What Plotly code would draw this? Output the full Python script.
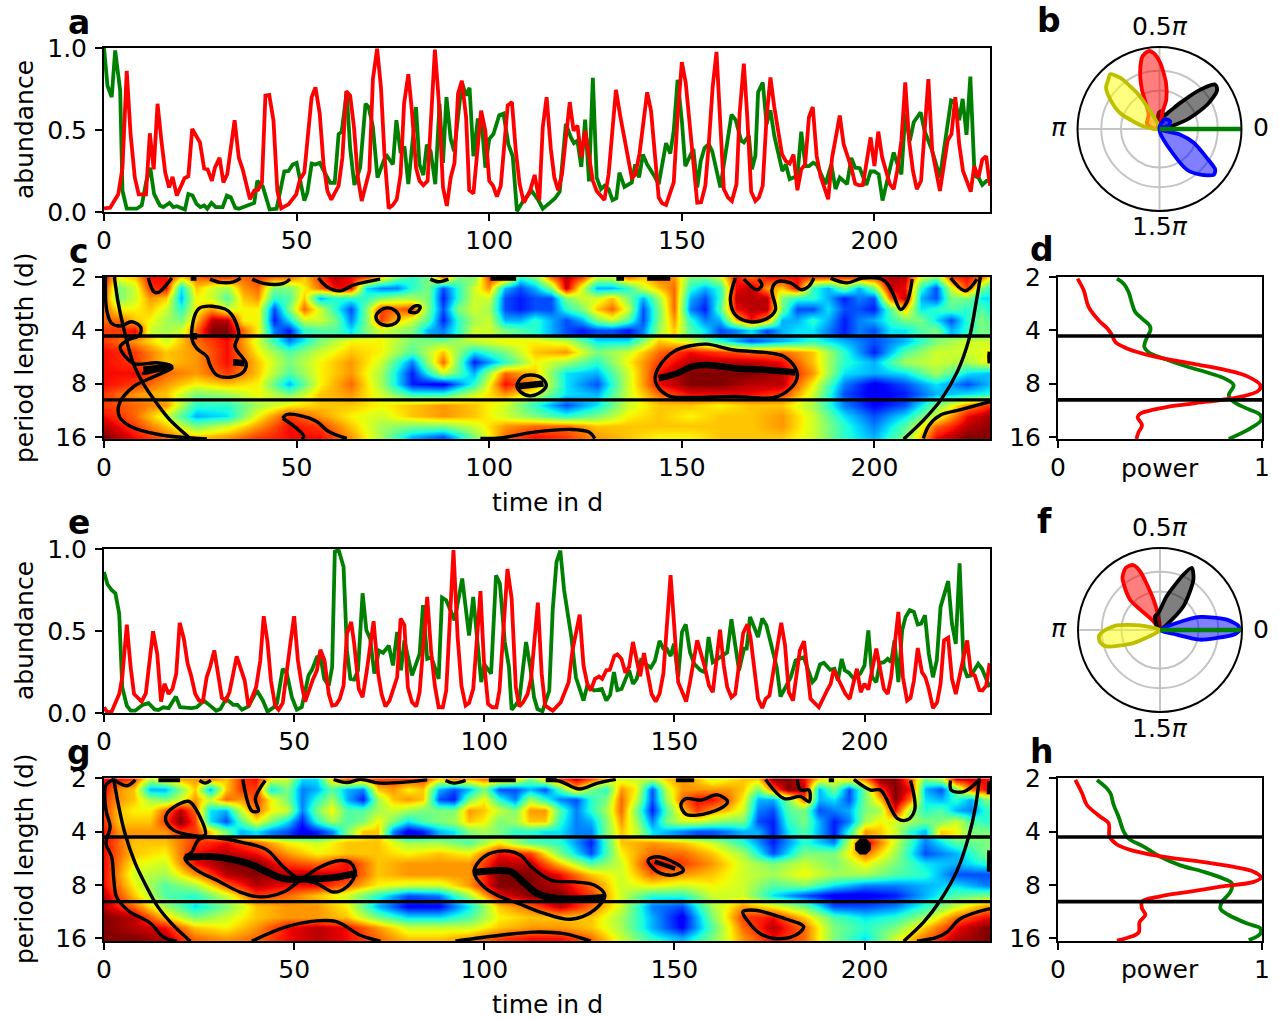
import plotly.graph_objects as go

W, H = 1279, 1019
# ---------- abundance series (day, abundance) ----------
A_GREEN = [(0,1),(.9,.77),(2,.70),(2.9,.985),(4.2,.74),(4.8,.13),(5.9,.02),(8.5,.02),(9.8,.04),(11,.19),(12,.27),(13,.11),(14.5,.04),(15.4,.03),(17,.055),(18,.03),(18.9,.035),(21,.015),(21.9,.11),(23,.1),(24,.05),(25,.03),(26,.04),(26.8,.02),(27.9,.055),(29,.03),(30.8,.03),(31.9,.1),(32.9,.09),(34.1,.025),(35,.02),(37,.04),(39,.055),(39.8,.19),(41.2,.157),(43,.015),(44.8,.02),(46.8,.247),(47.9,.25),(49,.29),(50,.3),(52,.07),(52.8,.12),(53.9,.295),(54.8,.29),(56,.3),(57.4,.24),(58.7,.178),(59.9,.178),(60.9,.475),(61.7,.49),(63,.73),(63.9,.39),(65,.165),(66.5,.27),(67.9,.66),(68.7,.64),(69.8,.52),(71,.21),(73.2,.35),(75,.29),(75.9,.56),(77,.36),(78,.40),(79,.17),(81,.64),(81.9,.29),(82.9,.225),(83.8,.41),(84.8,.37),(86,.17),(87.1,.66),(88,.30),(88.9,.70),(90,.445),(90.9,.37),(92.9,.79),(94,.71),(94.9,.757),(95.9,.34),(97,.56),(98,.56),(99,.27),(100,.445),(101.1,.475),(102.6,.59),(103.7,.6),(105,.41),(106.1,.34),(107.2,.005),(108.9,.07),(111,.13),(112.8,.07),(113.9,.02),(115.8,.057),(117.1,.084),(118.3,.124),(119.9,.537),(121.2,.455),(122,.42),(122.9,.435),(123.9,.275),(124.9,.563),(125.9,.186),(126.9,.818),(127.9,.21),(129,.14),(129.9,.16),(131,.14),(132,.073),(133,.084),(133.8,.24),(135.1,.153),(137,.18),(137.9,.29),(138.9,.21),(139.9,.35),(141,.29),(143.1,.21),(144,.17),(145.9,.42),(147,.357),(147.9,.496),(148.9,.806),(150,.557),(150.9,.28),(153,.384),(154,.15),(154.9,.31),(155.9,.39),(157,.414),(157.9,.37),(160,.15),(161,.3),(162.9,.594),(164,.56),(165.4,.435),(166.1,.424),(167.4,.465),(168.2,.26),(169.1,.343),(169.8,.73),(171,.79),(172,.537),(173,.62),(174,.465),(176.1,.25),(177,.29),(178,.2),(179,.21),(180,.22),(181,.49),(182.1,.28),(183,.28),(184.1,.30),(185,.29),(186.2,.22),(187.3,.17),(188.8,.29),(189.9,.14),(191,.21),(192.9,.17),(194,.33),(195,.27),(196.2,.267),(197.9,.165),(199,.247),(200,.247),(201.1,.23),(202.1,.07),(203.1,.17),(205,.363),(206,.29),(207,.23),(208,.6),(209.2,.435),(210.2,.547),(212,.608),(213,.496),(215,.373),(217,.21),(218,.384),(219.9,.68),(221,.67),(222,.56),(222.9,.69),(223.9,.47),(224.9,.826),(226,.22),(227,.21),(228,.165),(229.1,.19),(230,.19)]
A_RED = [(0,.022),(1.6,.026),(3.7,.108),(4.8,.27),(5.9,.86),(6.9,.475),(8,.21),(9,.108),(10.9,.108),(11.9,.48),(12.9,.26),(13.9,.66),(14.9,.435),(15.9,.24),(16.9,.15),(17.8,.214),(18.9,.1),(20.9,.206),(21.9,.218),(22.9,.506),(24.9,.425),(26,.265),(26.9,.26),(28,.19),(28.8,.27),(30,.33),(31,.18),(32,.23),(33.9,.56),(35,.33),(36,.26),(37.9,.078),(39,.13),(40,.135),(41,.18),(41.9,.71),(42.9,.714),(44,.557),(45,.128),(46,.022),(47.9,.047),(49.9,.108),(50.9,.2),(52,.24),(53.9,.70),(54.9,.76),(56,.6),(57,.29),(58,.128),(59,.075),(60.9,.16),(61.9,.333),(62.9,.737),(63.9,.71),(64.9,.516),(65.9,.21),(66.9,.067),(68.9,.25),(69.8,.81),(70.9,.996),(71.9,.76),(72.8,.353),(73.9,.022),(75,.043),(76,.078),(77,.23),(77.9,.66),(79,.84),(80,.6),(81,.27),(81.9,.19),(82.9,.163),(84,.19),(84.9,.6),(85.9,.99),(86.9,.68),(88,.15),(89,.037),(90,.21),(91,.30),(91.9,.72),(92.9,.80),(94,.578),(94.8,.133),(95.9,.112),(97.9,.618),(99,.496),(100,.19),(101,.16),(102,.094),(103,.16),(104.8,.65),(105.9,.67),(106.9,.373),(107.9,.17),(109,.057),(110.6,.13),(111.8,.226),(113,.07),(113.9,.516),(114.9,.70),(116,.384),(116.9,.21),(117.9,.133),(118.9,.23),(120.9,.67),(121.9,.496),(122.9,.527),(123.9,.333),(124.9,.496),(125.9,.353),(126.9,.19),(127.9,.128),(129.9,.073),(131,.23),(132.9,.745),(134,.588),(137,.21),(137.9,.226),(139,.353),(141,.73),(142,.618),(144,.088),(144.9,.053),(145.9,.043),(147.9,.18),(148.9,.578),(150,.914),(151,.79),(153,.27),(154,.057),(155,.06),(156.1,.16),(157,.414),(158,.76),(159,.976),(160,.537),(160.9,.14),(162,.088),(163,.067),(164.2,.17),(165,.6),(166.1,.904),(167,.578),(168,.124),(169.1,.067),(170,.088),(171,.16),(172,.578),(173,.82),(174,.64),(176,.353),(177,.31),(178,.296),(179,.35),(180,.133),(181,.26),(182,.29),(183,.578),(184,.64),(185,.343),(186,.22),(188,.078),(189,.33),(191,.588),(192,.414),(194,.27),(195,.173),(196,.163),(197,.165),(199,.455),(200,.28),(201,.49),(202,.333),(204,.17),(205,.14),(205.9,.25),(207,.435),(208,.79),(209,.435),(210,.25),(211,.14),(212.1,.19),(214,.81),(215,.373),(217,.128),(219,.435),(220,.475),(221,.70),(222,.414),(223,.25),(225,.124),(225.9,.28),(227,.21),(228,.32),(229,.34),(230,.16)]
E_GREEN = [(0,.86),(.9,.785),(2,.75),(3,.73),(4,.606),(4.8,.157),(6,.045),(7,.014),(8.2,.014),(10.2,.05),(11.7,.06),(13.3,.022),(14.3,.018),(15.6,.035),(17,.03),(18.9,.1),(20,.035),(23,.03),(24.4,.035),(26.3,.075),(27.9,.045),(29.5,.014),(30.6,.024),(32.1,.086),(34,.05),(35.1,.05),(36.3,.02),(38,.04),(40.2,.137),(41.8,.075),(43,.008),(44.6,.035),(45.5,.06),(47,.27),(48.1,.24),(49.4,.096),(50.7,.02),(52,.035),(53.8,.23),(54.7,.263),(56,.34),(56.9,.35),(57.9,.208),(59.1,.167),(60,.28),(60.7,.984),(61.7,.994),(63,.892),(63.9,.38),(64.8,.208),(65.8,.204),(66.8,.26),(68,.73),(69,.504),(70,.453),(71.1,.24),(72.3,.38),(73.4,.367),(74.9,.41),(76,.29),(77.1,.494),(78.1,.26),(79,.443),(81,.23),(83,.36),(83.9,.657),(85,.33),(86.1,.34),(88,.208),(88.9,.704),(90,.688),(92.2,.565),(94.2,.82),(96,.473),(97.1,.708),(99.2,.188),(100,.296),(101.8,.24),(103.1,.84),(104.1,.79),(105.4,.433),(106.5,.28),(107.2,.02),(109.2,.076),(111,.433),(112.1,.28),(113.1,.096),(114,.024),(115.3,.01),(117.1,.137),(118,.627),(119,.922),(120,.99),(121,.75),(122.9,.463),(124.1,.218),(126.1,.076),(127.1,.167),(128.9,.137),(130.9,.147),(132.1,.076),(133.1,.11),(134.1,.249),(135,.14),(136.1,.147),(138.1,.26),(139.1,.178),(140.1,.208),(141.2,.32),(143.8,.276),(144.9,.32),(146.1,.44),(147.1,.392),(148,.392),(149,.347),(149.9,.422),(151,.22),(152,.494),(153,.54),(154.1,.371),(155.2,.3),(156.9,.26),(158,.249),(159,.463),(160.1,.31),(163.9,.37),(165,.571),(165.9,.422),(167,.26),(168.3,.392),(169,.392),(169.9,.586),(172,.463),(173.1,.576),(174.2,.535),(176.9,.28),(177.9,.1),(179.7,.178),(180.6,.218),(181.9,.32),(184,.34),(186.3,.188),(187.1,.208),(188.3,.296),(189.3,.306),(191,.263),(192.1,.27),(193,.198),(194,.33),(194.8,.26),(195.9,.245),(197.2,.208),(198.9,.24),(200,.29),(201,.504),(202,.218),(203.1,.188),(204,.304),(205.1,.31),(206.1,.33),(207,.31),(207.9,.443),(208.9,.188),(209.9,.504),(210.8,.586),(211.9,.627),(213,.616),(214,.54),(214.9,.545),(215.9,.596),(216.9,.361),(218,.218),(219,.32),(220,.647),(222,.804),(223,.545),(224,.422),(225,.912),(226.1,.28),(227,.224),(228,.229),(229.9,.3),(230.9,.27),(232.9,.157)]
E_RED = [(0,.035),(.9,.004),(2,.008),(4,.116),(4.8,.218),(6,.539),(7,.28),(7.9,.116),(9.9,.07),(11,.12),(12.9,.498),(14,.36),(15,.07),(15.9,.178),(17,.116),(18,.147),(19,.24),(19.9,.55),(21,.453),(22,.3),(22.9,.229),(24,.116),(25,.076),(26,.07),(27,.218),(27.9,.28),(29,.382),(29.9,.26),(31,.092),(32,.076),(33,.127),(34.9,.345),(36,.26),(37,.198),(38,.04),(40,.157),(41.1,.32),(42,.59),(43,.433),(43.9,.198),(45,.045),(45.9,.02),(47,.06),(48.1,.28),(49,.422),(50,.59),(51,.32),(52.1,.157),(52.9,.07),(55,.208),(56,.26),(56.9,.386),(58,.32),(59.1,.116),(60,.045),(61,.05),(62,.086),(63,.167),(63.9,.484),(65,.555),(65.8,.422),(67,.147),(68,.096),(69,.24),(70.9,.56),(72.1,.24),(73,.116),(74,.04),(75.1,.076),(77.1,.218),(78,.576),(79,.535),(79.9,.157),(81,.065),(82.1,.04),(83,.127),(85,.708),(86,.382),(87,.167),(88,.035),(89.1,.035),(90,.137),(91.9,.994),(93,.463),(94,.167),(95.1,.045),(96,.06),(97.1,.147),(99,.743),(99.9,.32),(101,.055),(102.1,.035),(103.2,.035),(104,.137),(106.1,.878),(107.2,.698),(108.3,.157),(109.2,.04),(110.2,.065),(111.4,.116),(112.3,.208),(114.1,.673),(115.1,.24),(116,.045),(118,.014),(120.1,.065),(122.2,.188),(123.2,.382),(125.1,.6),(126.1,.29),(127.1,.178),(128,.137),(129.1,.208),(130.2,.222),(131,.208),(132.1,.26),(133,.263),(134.2,.347),(135,.357),(136.1,.33),(137.1,.245),(138.1,.28),(139.1,.433),(141,.224),(142,.365),(144,.116),(145.1,.07),(146.1,.116),(147.1,.24),(149,.84),(150,.494),(151,.188),(153.1,.07),(154.1,.188),(156,.443),(158,.28),(159.1,.167),(160.1,.127),(162,.508),(163,.29),(163.9,.157),(165,.096),(166,.116),(168.1,.488),(169.2,.54),(170,.463),(172,.086),(173.1,.03),(174,.086),(175,.106),(178.1,.55),(179.1,.412),(180.1,.127),(181.2,.076),(183,.382),(184.1,.437),(185.8,.086),(188,.035),(190.2,.14),(191.1,.178),(191.9,.263),(194,.157),(195,.116),(196.1,.086),(198,.27),(199,.127),(200,.178),(201,.143),(203.1,.392),(205.1,.147),(206.1,.116),(207,.218),(208.9,.616),(210.1,.218),(211.2,.076),(212.1,.092),(213,.198),(214,.396),(215.1,.249),(216,.218),(216.9,.147),(218,.03),(219.1,.065),(220,.178),(220.9,.443),(222,.459),(223,.208),(224,.116),(227,.443),(228,.239),(229,.229),(230.2,.14),(231,.137),(232,.167),(232.9,.304)]

# ---------- wavelet power ----------
# short periods: a column every 4 d
TOP_DAYS = [0,4,8,12,16,20,24,28,32,36,40,44,48,52,56,60,64,68,72,76,80,84,88,92,96,100,104,108,112,116,120,124,128,132,136,140,144,148,152,156,160,164,168,172,176,180,184,188,192,196,200,204,208,212,216,220,224,228,232]
TOP_LOG2P = [1.0,1.2,1.4,1.6,1.8,2.0]
TOP_C = [
[9,6.5,7,9,9,7,8,8.5,8.5,8,8.5,8,8,7,8.5,9.5,9,8.5,7,5,4,5,8,5,5,8.5,8.5,4,5,8,9.5,8.5,6,6,8,7,8,7.5,5,5,6,9,8,9,9,9,8.5,8.5,8.5,8.5,8.5,9.5,9.5,6,5,8.5,9,8,5],
[8.5,5,6,8.5,9,3.5,7,6,5.5,7.5,8,5,5,6.5,8,9,9,3.5,2.5,2.5,4,5,2,4,6,7.5,3,2,3,5,9.5,6,3,3,4,6,7,8,4,3,4,9,9.5,7.5,7,9,4,3,5,3,5,9.5,9,4,2,6,8.5,5,3],
[8,5,6,7.5,7,3,6.5,6,4.5,7,7.5,4,4.5,7,3,4,4,4,5,5.5,5.5,5,1.5,4,6,6,2,1.5,2,2,5,6,6,7,5,3,5.5,8,3,2,4,9.5,9.5,9.5,5,4,4,3,1.5,2.5,2,8,9.5,3,2,5,5,3.5,3.5],
[8,6.5,6.5,7,6,4,6.5,7.5,6,6.5,6.5,2,5,8,6,4,2,5,8.5,8,8.5,5,2,5,6,5.5,2,1.5,2,2,4,5,7,8,6,2,5,8,2.5,1.5,4.5,9,9.5,9.5,5,2,2,3.5,2,2,1.5,4.5,7,3.5,4,4.5,4,4.5,3],
[8,8,7,6.5,5.5,5,7,9.5,9.5,6.5,6.5,1.5,3.5,6,6,5,2.5,5,8.5,7,6,4.5,1.5,4,5.5,6,3,3,4,3,2,3,5,6,4.5,2,5,7.5,4,2.5,3,7,9,7.5,3,3,4,3,1.5,2.5,3,4,5,5,3.5,2,4,5,4],
[8.5,8.5,9,6,5.5,6,8,10,10,8,6.5,2.5,1.5,4,4.5,4.5,3.5,5,6,5.5,5,3,2.5,4,6,6,5,4.5,4,3,2,1.5,2,2,1.5,2.5,5.5,7,4.5,3.5,2,2.5,3.5,2,3,3.5,3.5,2.5,1.5,2.5,2,3.5,3.5,4.5,5,3,4,5,4.5],
]
TOP_G = [
[9,9,8.5,6,7,7.5,7.5,8,7,8.5,9,6.5,6,3.5,3.5,7,8.5,8,8.5,8.5,8.5,8.5,7,8,7.5,8,8,7,5,7,8.5,9.5,8.5,7,6,6,6,7,7.5,7,6,6.5,7,7,10,10,9,7,6.5,7,8,10,10,8,5,6,9.5,9.5,9],
[9,7.5,7,3,3,5,7,3,7,8.5,8.5,3.5,5,2.5,3,4.5,3,2.5,7,7.5,6.5,7,3,2,3,5,2,2,3,2,4.5,7,5,4,7.5,6.5,2,6,7.5,7.5,7.5,7.5,7,5,8,10,9.5,3,5,2,5,8.5,10,9,3,2,5,8,9],
[8.5,7.5,7,5.5,5,6,7.5,6,8,7.5,8.5,6.5,5,2.5,4,5.5,3,1.5,5.5,7,7.5,7,2,1.5,5,6.5,4,2.5,5.5,4,2.5,2,4,5,8,6,2,5.5,8,9,9,8,6.5,3,3,5,8,3,3.5,2,5,7,10,8,3.5,3,4,3,5],
[8.5,7,6.5,6.5,8,9.5,8,3.5,3,6,8,6.5,6,2.5,5,6.5,4.5,4.5,5.5,6,5.5,5,5,5,7.5,7,6,5,7.5,7.5,4.5,2.5,4,5.5,8,5,1.5,4.5,7,8.5,7.5,7,6,2.5,2,4.5,5,2,2.5,3,5,5.5,9,5.5,4,4.5,3,2.5,4],
[8.5,7,7,7,8.5,10,8.5,3.5,2,4.5,6.5,5,3.5,1.5,4,5.5,4.5,5,6.5,5,3.5,4.5,5,5.5,7,6.5,5,5.5,7,7,4,2.5,3,5,7.5,5.5,2.5,5,6,6,5.5,5,5,2,1.5,4,5,3,1.5,2.5,5.5,6.5,6,5.5,5,5,6,4.5,4],
[9,7.5,7.5,7.5,7.5,8.5,8.5,7,5,3,3.5,2.5,2,1,1.5,2.5,5,7,7,2.5,1,1.5,3,3.5,5,5.5,5,4,4,3.5,3.5,2.5,2.5,5,7,6,3.5,3,2.5,2,2,2.5,3,3,1.5,3.5,4.5,3,1.5,4,7.5,7,6,4,3,7,6.5,5,5],
]
# longer periods: a column every 8 d
LOW_DAYS = [0,8,16,24,32,40,48,56,64,72,80,88,96,104,112,120,128,136,144,152,160,168,176,184,192,200,208,216,224,232]
LOW_LOG2P = [2.2,2.4,2.6,2.8,3.0,3.2,3.4,3.6,3.8,4.0]
LOW_C = [
[8.5,7.5,6,8,9,6,2.5,5,6.5,6.5,5,5,6,6.5,6.5,6,3.5,3.5,7,6,4,2,3,4,3,2,3,5,6,6],
[9,8.5,7,7.5,9,6.5,4.5,6,7,6.5,4.5,7,3.5,5,7,7.5,5,6,8,9,8.5,8,8,7,4,1.5,4.5,6,6,6.5],
[9,8.5,7,7.5,9,7,5,6.5,7.5,6,2.5,8,1.5,4,6.5,5.5,4,6.5,8.5,9.5,9.5,9.5,9,7,4,3,5.5,6,5.5,7],
[9,9,8,7.5,8.5,7,4.5,6.5,7.5,5.5,1.5,6,3,8,7,3.5,3,6,9,10,10,10,9.5,7.5,3.5,3,3.5,5.5,3.5,3],
[9,8.5,7.5,6.5,7,6.5,3,6.5,8,5.5,1.5,1,4,9,7.5,3.5,2,6,9,10,10,9.5,9.5,6.5,2.5,1,2,3.5,2,3.5],
[8.5,7.5,7,5,5.5,6.5,5,7,7.5,6,4,4,6,7.5,6,3.5,3,6,8,9,9,9,8.5,6,2,1,1.5,3,3.5,4],
[8.5,8,7.5,4,4,5.5,6.5,7,7,6.5,7,7.5,7,6,4,2,3.5,6,7,7,6.5,7,7,5.5,2.5,1.2,2,5,7.5,9],
[9,8,6,3,3.5,6.5,8.5,7.5,6.5,6,7,7.5,7,6,5,4,5,6.5,7,6.5,7,7,7.5,6,3.5,2,3.5,6,9,10],
[9.5,8.5,7,5,6,7.5,9,8.5,7,5.5,5,5,6,7.5,8,8,7,7,7,7,7,7,7.5,6,4,2.5,4.5,8,9.5,10],
[10,9,8,7,7.5,8.5,9,9,7.5,5.5,3,2,5,8,9,8.5,7.5,7,6.5,6.5,7,7,7,6,4,3,5,9,10,10],
]
LOW_G = [
[9,7,7,8.5,9,8,6.5,6,7,7,5.5,5.5,4.5,6.5,4.5,4,1.5,7,7.5,7,6,4,1.5,4,2.5,9.5,6,2.5,4.5,5],
[9,7,6.5,9,9.5,9,7.5,6.5,7,7,6.5,7,6.5,9,8.5,5,2,6.5,8,8,7,5.5,2,5,5,8,5.5,2,3,5],
[9,6.5,6,9,10,10,8.5,8,9,7,7.5,7.5,7.5,9.5,9.5,7,4.5,6,9,8.5,7.5,6,5,6,5,6.5,5,3.5,3,4],
[9,6,5.5,7.5,9.5,10,9.5,9.5,9,7,7.5,7.5,7.5,10,10,9,7,6,8,7.5,7,6,5.5,6.5,5.5,5.5,4.5,4,2,2],
[9,6.5,4.5,5.5,8,9.5,9,9,8,6.5,6,6,7.5,10,10,9.5,8,6,6.5,6,6.5,6,4.5,5,3.5,2.5,2.5,3,3.5,2.5],
[9.5,7,4.5,4,6,8.5,8,7,6,4,2,2.5,5.5,9,10,10,8.5,6,4,4,6,6,3.5,2,1,1,1.5,3,4.5,5],
[9.5,8,5.5,3.5,5,7,7.5,7.5,6.5,3,1.2,1.2,3.5,7,8,9.5,8,6,2.5,2,5.5,7.5,6.5,5,2,2,2.5,4,6,7.5],
[10,9.5,7,5,6,7,7.5,7.5,7,5,3.5,3.5,4.5,6.5,7,7,7,5.5,3,1,5,8.5,9,7,4.5,3.5,4,5.5,8,9],
[10,9.5,9,7,6.5,7.5,9,9.5,9,7.5,6,6,6,7,7.5,7.5,7,5.5,3,1.2,4.5,8,9.5,8,5,4,5,7,9,10],
[10,10,9.5,8,7.5,8,9,9.5,9,8,7,7,7.5,8.5,9,9,8,6,4,3,5,7.5,9,8,5,3.5,6,8,9.5,10],
]
# ---------- contour outlines (day, log2 period) ----------
CONT_C = [
[(2.7,1),(3.7,1.49),(5.2,1.99),(7.6,2.62),(10.2,3),(13.7,3.37),(17.1,3.68),(21.9,4),(22.5,4.04)],
[(207.6,4.04),(212.8,3.68),(217.2,3.31),(221.5,2.78),(224.5,2.18),(226.2,1.56),(227.5,1)],
[(.4,1),(.7,1.62),(2,1.87),(4.2,1.92),(7.2,1.84),(9.5,1.94),(9.2,2.09),(6.3,2.18),(4.2,2.31),(5.5,2.49),(8,2.63),(13.7,2.61),(17.6,2.68),(10.2,2.81),(17.7,2.71),(12,2.9),(7.6,3.06),(4,3.37),(4,3.62),(6.8,3.8),(14.5,3.96),(26.7,4.04)],
[(24.7,1.59),(31.4,1.6),(33.2,1.71),(35,2.06),(34,2.31),(36.9,2.62),(36.2,2.78),(32.7,2.88),(29.3,2.84),(27.5,2.65),(26.7,2.49),(24.1,2.34),(22.8,2.15),(24.7,1.59)],
[(70.6,1.74),(71.7,1.63),(73.4,1.58),(75.6,1.63),(76.6,1.76),(75.6,1.87),(73.4,1.91),(71.4,1.86),(70.6,1.74)],
[(79.3,1.65),(80.8,1.54),(82.1,1.56),(81.2,1.66),(79.3,1.65)],
[(11.5,1.02),(13,1.28),(14.1,1.29),(15.8,1.18),(17.6,1.02)],
[(27.5,1.04),(30.1,1.1),(33.6,1.09),(35.5,1.02)],
[(38.5,1.04),(41.4,1.12),(46.6,1.12),(48.3,1.04)],
[(55.7,1.02),(57.8,1.18),(61.3,1.26),(64.8,1.15),(71.7,1.04)],
[(84.7,1.04),(86.8,1.09),(89.4,1.04)],
[(46.4,3.65),(47.4,3.58),(50.9,3.6),(55.2,3.71),(58.3,3.9),(63,4.03)],
[(46.4,3.65),(50,3.84),(51.9,3.99),(51.3,4.04)],
[(97.7,4.03),(102.9,4.02),(111.7,3.91),(121.6,3.86),(125.9,3.91),(127.4,4.03)],
[(107.2,3.04),(108.5,2.88),(110.8,2.84),(113.7,2.9),(114.8,3.04),(113.2,3.17),(110.6,3.23),(108.2,3.16),(107.2,3.04)],
[(143.1,2.87),(144.4,2.65),(147.9,2.4),(152.2,2.29),(156.5,2.26),(163.5,2.37),(172.1,2.42),(176.5,2.49),(179.5,2.71),(180,2.87),(178.2,3.09),(174,3.26),(163.5,3.24),(152.2,3.26),(146.6,3.23),(143.5,3.03),(143.1,2.87)],
[(163.9,1.02),(162.6,1.43),(163.9,1.71),(167.8,1.84),(172.1,1.78),(174.3,1.62),(173.4,1.24),(174.7,1.09),(178.2,1.11),(181.1,1.24),(182.9,1.18),(184.3,1.02)],
[(166.1,1.04),(169.5,1.24),(170.8,1.15),(169.9,1.04)],
[(188.6,1.02),(192.9,1.11),(197,1.02),(202.4,1.06),(204.6,1.28),(206.8,1.61),(208.5,1.46),(209.8,1.04)],
[(219.8,1.02),(223.6,1.26),(226.6,1.04)],
[(230,3.34),(222.4,3.49),(217.2,3.59),(214.2,3.78),(212.7,4.03)],
[(229.8,2.4),(229.7,2.5),(229.8,2.62)],
]
RIDGE_C = [
[(144,2.9),(148.7,2.81),(152.6,2.68),(156.5,2.65),(163.5,2.71),(171.2,2.74),(179.5,2.79)],
[(10.2,2.74),(17.2,2.68)],
[(33.5,2.6),(36.5,2.62)],
[(22.8,2.11),(24.2,2.11)],
[(107.7,3.05),(114.1,3.0)],
]
BAR_C = [
[(100.3,1.03),(107,1.03)],
[(22.5,1.03),(24,1.03)],
[(133,1.03),(135,1.03)],
[(141,1.03),(147,1.03)],
]
CONT_G = [
[(2.5,1),(3.8,1.5),(5.5,2.03),(8.2,2.59),(11.2,3.03),(13.9,3.38),(17.8,3.72),(22.7,4.05)],
[(210.3,4.05),(215.6,3.69),(220,3.28),(224.4,2.72),(227.4,2.09),(229.2,1.53),(230.2,1)],
[(2.5,1.02),(.5,1.13),(.5,1.59),(1.6,1.91),(.5,2.22),(2,2.47),(2.6,2.91),(3.3,3.22),(6.4,3.48),(12.1,3.71),(15.6,3.97),(19.1,4.05)],
[(2.5,1.02),(6,1.14),(8.2,1.03)],
[(25.1,1.04),(26.6,1.09),(28.1,1.04)],
[(36.5,1.02),(38.9,1.61),(40.6,1.61),(39.8,1.38),(42.4,1.04)],
[(60.4,1.02),(63.9,1.08),(67.4,1.02),(72.7,1.09),(85,1.03)],
[(89.8,1.04),(92,1.09),(95.1,1.04)],
[(116.2,1.02),(120.1,1.06),(125,1.2),(129.8,1.09),(134.6,1.02)],
[(174,1.02),(178.9,1.38),(183.2,1.34),(185.4,1.44),(185.4,1.22),(183.2,1.22),(182.3,1.02)],
[(197.2,1.02),(201.6,1.22),(204.2,1.22),(208.6,1.75),(211.2,1.78),(213.2,1.59),(212.1,1.04)],
[(222.6,1.04),(222.8,1.22),(226.1,1.25),(230,1.04)],
[(16.2,1.72),(17.4,1.59),(22.2,1.43),(24,1.56),(26.6,2.06),(22.7,2.06),(18.3,1.97),(16.5,1.84),(16.2,1.72)],
[(25.3,2.13),(37.6,2.22),(42.8,2.34),(47.2,2.66),(51.2,2.88),(56,2.97),(60.4,3.13),(63.9,3.03),(66.1,2.78),(64.8,2.58),(62.2,2.54),(56.9,2.66),(51.6,2.91),(47.2,3.13),(41.1,3.22),(35.8,3.13),(29.7,2.91),(24.4,2.72),(21.3,2.5),(23.1,2.38),(25.3,2.13)],
[(97.3,2.75),(99.9,2.47),(105.2,2.36),(109.6,2.44),(112.4,2.66),(117.7,2.91),(123.6,2.94),(128.9,3),(131.7,3.19),(128.9,3.47),(122.8,3.64),(115.8,3.53),(108.8,3.34),(104.3,3.22),(99.9,3.03),(97.3,2.75)],
[(38.9,4.05),(48.1,3.78),(56,3.67),(61.3,3.69),(67.4,3.94),(72.7,4.05)],
[(92.4,4.05),(104.3,3.94),(113.1,3.88),(121,3.91),(128,4.05)],
[(151.7,1.5),(153,1.38),(156.9,1.41),(161.3,1.31),(164,1.44),(162.2,1.56),(156,1.69),(153,1.67),(151.7,1.5)],
[(143.1,2.53),(145.5,2.47),(150.8,2.61),(152.4,2.72),(149.9,2.81),(146.4,2.78),(143.8,2.64),(143.1,2.53)],
[(168,3.5),(171.2,3.47),(179.1,3.63),(184,3.78),(181.8,3.94),(176.5,4),(172.6,3.91),(169.5,3.69),(168,3.5)],
[(213.8,4.05),(219,3.98),(221.7,3.88),(225.2,3.63),(233,3.44)],
[(232.7,1.05),(232.6,1.3)],
[(232.7,2.35),(232.6,2.75)],
]
RIDGE_G = [
[(21.3,2.48),(28.8,2.47),(37.6,2.59),(42.8,2.75),(47.2,2.88),(52.5,2.89),(60.4,2.86),(66.5,2.77)],
[(97.3,2.76),(102.5,2.73),(107,2.75),(109.6,2.9),(114,3.16),(119.3,3.25),(131.5,3.23)],
]
BAR_G = [
[(144.8,2.56),(150.2,2.69)],
[(14.3,1.03),(20,1.03)],
[(101.2,1.03),(108.3,1.03)],
[(116.2,1.03),(119,1.03)],
[(150.4,1.03),(155.2,1.03)],
[(190.6,1.03),(192,1.03)],
]
G_DOT = [(199.6,2.28)]
C_BANDS = [2.106, 3.306]
G_BANDS = [2.1, 3.31]
# ---------- global wavelet spectra (power, log2 period) ----------
D_GREEN = [(.289,1.03),(.322,1.125),(.346,1.28),(.363,1.5),(.379,1.66),(.412,1.78),(.449,1.91),(.453,2),(.433,2.16),(.423,2.31),(.444,2.41),(.518,2.53),(.632,2.68),(.747,2.81),(.82,2.91),(.861,3.03),(.837,3.22),(.861,3.34),(.927,3.47),(.992,3.59),(.995,3.69),(.943,3.84),(.877,3.97),(.837,4.04)]
D_RED = [(.096,1.03),(.126,1.25),(.15,1.56),(.199,1.81),(.243,1.97),(.265,2.09),(.281,2.22),(.338,2.34),(.469,2.49),(.665,2.63),(.828,2.75),(.926,2.86),(.992,3.03),(.984,3.13),(.894,3.25),(.73,3.34),(.583,3.41),(.469,3.49),(.404,3.56),(.39,3.63),(.412,3.78),(.395,3.91),(.384,4.04)]
H_GREEN = [(.191,1.03),(.232,1.16),(.257,1.28),(.273,1.5),(.297,1.72),(.322,2),(.346,2.13),(.42,2.28),(.502,2.47),(.6,2.63),(.714,2.75),(.812,2.88),(.853,2.97),(.845,3.13),(.804,3.31),(.796,3.44),(.837,3.56),(.927,3.72),(.992,3.81),(.992,3.91),(.935,4.03)]
H_RED = [(.085,1.03),(.118,1.28),(.142,1.5),(.208,1.72),(.248,1.84),(.253,2.09),(.289,2.24),(.371,2.36),(.502,2.46),(.698,2.56),(.861,2.66),(.959,2.75),(.995,2.86),(.959,2.94),(.796,3.03),(.632,3.13),(.502,3.21),(.412,3.31),(.412,3.44),(.428,3.56),(.4,3.69),(.395,3.89),(.338,3.99),(.289,4.04)]
# ---------- phase roses (angle deg, radius) ----------
B_BLACK = [(0,0),(18.9,.354),(27,.652),(33,.83),(36,.865),(39,.865),(45,.65),(51.5,.407),(60,.25),(72,.17),(82,.22),(92,.2),(105,.08),(0,0)]
B_RED = [(0,0),(80,.2),(77,.37),(82,.569),(89.4,.808),(94.5,.93),(98,.96),(103,.913),(108.5,.743),(114,.528),(127,.22),(155,.17),(166,.13),(178,.05),(0,0)]
B_YELLOW = [(0,0),(115,.17),(122,.52),(127.6,.789),(132,.9),(136,.868),(142.4,.823),(150,.68),(157.9,.52),(170.5,.2),(0,0)]
B_BLUE = [(0,0),(-15,.25),(-22,.45),(-31.5,.68),(-36,.84),(-40,.866),(-48,.749),(-56,.6),(-62.7,.285),(-80,.05),(0,0),(20,.12),(36,.16),(60,.14),(75,.06),(0,0)]
F_RED = [(0,0),(97,.168),(102,.38),(108.8,.76),(112.4,.857),(118.7,.866),(125.7,.784),(134.7,.522),(127,.134),(0,0)]
F_BLACK = [(0,0),(38.7,.105),(45.4,.407),(56.5,.739),(63,.852),(67,.735),(78.8,.42),(95,.21),(110,.178),(130,.06),(0,0)]
F_BLUE = [(0,0),(22.8,.22),(18,.515),(8.8,.826),(2.7,.96),(-1,.96),(-3.6,.9),(-8,.7),(-13.6,.504),(-15.6,.212),(0,0)]
F_YELLOW = [(0,0),(167,.25),(174,.533),(181.3,.694),(186,.75),(192,.745),(197,.683),(206,.363),(215,.07),(0,0)]
ROSE_GREEN = [(0,0),(0,1)]

def px(x): return x / W
def py(y): return 1 - y / H

JET = [[0,"rgb(0,0,128)"],[.11,"rgb(0,0,255)"],[.125,"rgb(0,0,255)"],[.34,"rgb(0,219,255)"],[.375,"rgb(20,255,226)"],[.64,"rgb(238,255,8)"],[.66,"rgb(255,236,0)"],[.89,"rgb(255,19,0)"],[.91,"rgb(232,0,0)"],[1,"rgb(128,0,0)"]]
FONT = "DejaVu Sans"
FS = 25
fig = go.Figure()
ax = dict(showgrid=False, zeroline=False, showline=True, linecolor="black", linewidth=2, mirror=True,
          ticks="outside", ticklen=7, tickwidth=2, tickcolor="black",
          tickfont=dict(family=FONT, size=FS, color="black"))
layout = {}
def add_axes(n, x0, x1, y0, y1, xr, yr, xt, yt, yl):
    s = "" if n == 1 else str(n)
    layout["xaxis" + s] = dict(ax, domain=[px(x0), px(x1)], range=xr, tickmode="array", tickvals=xt, ticktext=[str(v) for v in xt], anchor="y" + s, ticklabelstandoff=-2)
    layout["yaxis" + s] = dict(ax, domain=[py(y1), py(y0)], range=yr, tickmode="array", tickvals=yt, ticktext=yl, anchor="x" + s, ticklabelstandoff=3)
OCT = [1, 2, 3, 4]
OCTL = ["2", "4", "8", "16"]
TT = [0, 50, 100, 150, 200]
add_axes(1, 104, 990, 48, 212, [0,230], [0,1], TT, [0,.5,1], ["0.0","0.5","1.0"])
add_axes(2, 104, 990, 277, 439.3, [0,230], [4.045,1], TT, OCT, OCTL)
add_axes(3, 1058, 1262, 277, 439.3, [0,1], [4.045,1], [0,1], OCT, OCTL)
add_axes(4, 104, 990, 549, 713, [0,233], [0,1], TT, [0,.5,1], ["0.0","0.5","1.0"])
add_axes(5, 104, 990, 778.3, 941, [0,233], [4.047,1], TT, OCT, OCTL)
add_axes(6, 1058, 1262, 778.3, 941, [0,1], [4.047,1], [0,1], OCT, OCTL)

def line(pts, color, n, width=3.8, shape="linear"):
    s = "" if n == 1 else str(n)
    fig.add_trace(go.Scatter(x=[p[0] for p in pts], y=[p[1] for p in pts], mode="lines", showlegend=False, hoverinfo="skip",
                             line=dict(color=color, width=width, shape=shape), xaxis="x" + s, yaxis="y" + s))

def heat(xs, ys, z, n):
    fig.add_trace(go.Heatmap(x=xs, y=ys, z=z, zmin=0, zmax=10, colorscale=JET, zsmooth="best", showscale=False,
                             hoverinfo="skip", xaxis="x%d" % n, yaxis="y%d" % n))

GREEN, RED = "#008000", "#ff0000"
line(A_GREEN, GREEN, 1); line(A_RED, RED, 1)
heat(LOW_DAYS, [2.0] + LOW_LOG2P, [[TOP_C[-1][i * 2] for i in range(30)]] + LOW_C, 2)
heat(TOP_DAYS, TOP_LOG2P, TOP_C, 2)
for c in CONT_C: line(c, "black", 2, 3.4, "spline")
for c in RIDGE_C: line(c, "black", 2, 6.5, "spline")
for c in BAR_C: line(c, "black", 2, 4.5)
for b in C_BANDS: line([(0,b),(230,b)], "black", 2, 3.4)
line(D_GREEN, GREEN, 3, 3.8, "spline"); line(D_RED, RED, 3, 3.8, "spline")
for b in C_BANDS: line([(0,b),(1,b)], "black", 3, 3.6)

line(E_GREEN, GREEN, 4); line(E_RED, RED, 4)
heat(LOW_DAYS, [2.0] + LOW_LOG2P, [[TOP_G[-1][i * 2] for i in range(30)]] + LOW_G, 5)
heat(TOP_DAYS, TOP_LOG2P, TOP_G, 5)
for c in CONT_G: line(c, "black", 5, 3.4, "spline")
for c in RIDGE_G: line(c, "black", 5, 7, "spline")
for c in BAR_G: line(c, "black", 5, 4.5)
fig.add_trace(go.Scatter(x=[p[0] for p in G_DOT], y=[p[1] for p in G_DOT], mode="markers", marker=dict(color="black", size=17, symbol="octagon"),
                         showlegend=False, hoverinfo="skip", xaxis="x5", yaxis="y5"))
for b in G_BANDS: line([(0,b),(233,b)], "black", 5, 3.4)
line(H_GREEN, GREEN, 6, 3.8, "spline"); line(H_RED, RED, 6, 3.8, "spline")
for b in G_BANDS: line([(0,b),(1,b)], "black", 6, 3.6)

def rose(pts, col, fill, sub):
    fig.add_trace(go.Scatterpolar(theta=[p[0] for p in pts], r=[p[1] for p in pts], mode="lines", fill="toself" if fill else "none",
        fillcolor=fill, line=dict(color=col, width=3.8 if fill else 4.5, shape="spline" if fill else "linear", smoothing=.7), subplot=sub, showlegend=False, hoverinfo="skip"))

ROSE_FILLS = {"k":"rgba(0,0,0,.5)","r":"rgba(255,0,0,.5)","y":"rgba(255,255,0,.5)","b":"rgba(0,0,255,.5)"}
rose(B_BLACK, "black", ROSE_FILLS["k"], "polar"); rose(B_RED, "#ff0000", ROSE_FILLS["r"], "polar")
rose(B_YELLOW, "#bfbf00", ROSE_FILLS["y"], "polar"); rose(B_BLUE, "#0000ff", ROSE_FILLS["b"], "polar")
rose(ROSE_GREEN, GREEN, None, "polar")
rose(F_RED, "#ff0000", ROSE_FILLS["r"], "polar2"); rose(F_BLACK, "black", ROSE_FILLS["k"], "polar2")
rose(F_BLUE, "#0000ff", ROSE_FILLS["b"], "polar2"); rose(F_YELLOW, "#bfbf00", ROSE_FILLS["y"], "polar2")
rose(ROSE_GREEN, GREEN, None, "polar2")

def polar(cx, cy, R=82):
    return dict(domain=dict(x=[px(cx-R), px(cx+R)], y=[py(cy+R), py(cy-R)]), bgcolor="white",
        radialaxis=dict(range=[0,1], tickvals=[.47,.71], showticklabels=False, ticks="", showline=False, gridcolor="#c4c4c4", gridwidth=2),
        angularaxis=dict(tickvals=[0,90,180,270], showticklabels=False, ticks="", linecolor="black", linewidth=2, gridcolor="#c4c4c4", gridwidth=2, direction="counterclockwise", rotation=0))
layout["polar"] = polar(1159.5, 129)
layout["polar2"] = polar(1160, 630)

ann = []
def text(s, x, y, size=FS, angle=0, bold=False):
    ann.append(dict(text="<b>%s</b>" % s if bold else s, x=px(x), y=py(y), xref="paper", yref="paper", showarrow=False, xanchor="center", yanchor="middle",
                    textangle=angle, font=dict(family=FONT, size=size, color="black")))
for s, x, y in [("a",79,22),("b",1049,20),("c",79,251),("d",1042,249),("e",79,522),("f",1044,521),("g",79,752),("h",1042,751)]:
    text(s, x, y, 33, bold=True)
for s, y in [("abundance",130),("period length (d)",358),("abundance",631),("period length (d)",859)]:
    text(s, 24, y, FS, -90)
for y in (503, 1004): text("time in d", 547, y)
for y in (468, 969): text("power", 1160, y)
for dy in (0, 501):
    text("0.5<i>π</i>", 1160, 26+dy); text("1.5<i>π</i>", 1160, 227+dy); text("<i>π</i>", 1059, 127+dy); text("0", 1261, 128+dy)

fig.update_layout(width=W, height=H, margin=dict(l=0,r=0,t=0,b=0,autoexpand=False), paper_bgcolor="white", plot_bgcolor="white",
                  annotations=ann, font=dict(family=FONT), **layout)
fig.write_html("out.html", config={"displayModeBar": False}, post_script="document.body.style.margin='0';")
